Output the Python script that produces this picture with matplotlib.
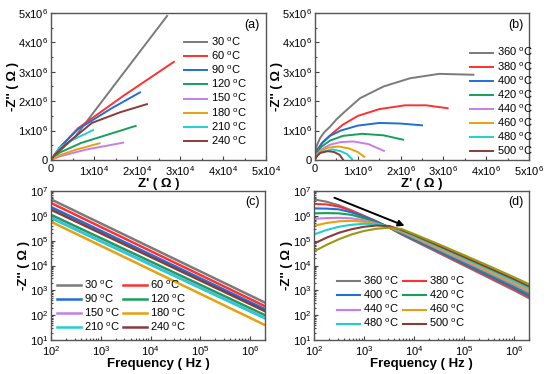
import numpy as np
import matplotlib
matplotlib.use('Agg')
import matplotlib.pyplot as plt
from matplotlib.ticker import FuncFormatter, AutoMinorLocator, LogLocator, NullFormatter

plt.rcParams['font.family'] = ['Liberation Sans', 'DejaVu Sans']
plt.rcParams['mathtext.fontset'] = 'custom'
plt.rcParams['mathtext.rm'] = 'Liberation Sans'
plt.rcParams['mathtext.it'] = 'Liberation Sans:italic'
plt.rcParams['mathtext.bf'] = 'Liberation Sans:bold'

COLORS = ['#7a7a7a', '#ff3030', '#1f6fd8', '#16a05a', '#c87ee8',
          '#e8a010', '#20d0d0', '#8b3a3a']
OLIVE = '#9a9a10'

# (a) Nyquist, low temperatures  (Z' in 1e4 ohm, -Z'' in 1e6 ohm)
temps_low = [30, 60, 90, 120, 150, 180, 210, 240]
a_zre = [[0, 0.2, 0.56, 1.5, 2.7],
         [0, 0.2, 0.63, 1.7, 2.86],
         [0, 0.2, 0.63, 1.4, 2.07],
         [0, 0.2, 0.7, 1.97],
         [0, 0.2, 0.8, 1.68],
         [0, 0.2, 0.6, 1.13],
         [0, 0.2, 0.5, 0.98],
         [0, 0.1, 0.33, 0.95, 1.6, 2.23]]
a_zim = [[0, 0.3, 0.79, 2.6, 4.9],
         [0, 0.42, 1.08, 2.2, 3.34],
         [0, 0.42, 1.05, 1.75, 2.3],
         [0, 0.25, 0.58, 1.16],
         [0, 0.12, 0.35, 0.59],
         [0, 0.16, 0.36, 0.57],
         [0, 0.42, 0.68, 1.02],
         [0, 0.2, 0.51, 1.26, 1.62, 1.9]]

# (b) Nyquist, high temperatures (both in 1e6 ohm)
temps_high = [360, 380, 400, 420, 440, 460, 480, 500]
b_zre = [[0.0, 0.03, 0.12, 0.22, 0.35, 0.5, 0.7, 1.05, 1.6, 2.22, 2.9, 3.7],
         [0.0, 0.05, 0.19, 0.4, 0.65, 1.0, 1.5, 2.1, 2.6, 3.1],
         [0.0, 0.05, 0.15, 0.35, 0.6, 1.0, 1.5, 2.0, 2.5],
         [0.0, 0.05, 0.15, 0.35, 0.65, 1.1, 1.6, 2.06],
         [0.0, 0.05, 0.15, 0.35, 0.6, 0.9, 1.25, 1.61],
         [0.0, 0.05, 0.15, 0.3, 0.55, 0.8, 1.0, 1.15],
         [0.0, 0.05, 0.15, 0.4, 0.6, 0.75, 0.87],
         [0.0, 0.04, 0.12, 0.3, 0.45, 0.58, 0.66]]
b_zim = [[0.1, 0.45, 0.75, 0.95, 1.13, 1.38, 1.65, 2.1, 2.5, 2.78, 2.93, 2.9],
         [0.08, 0.35, 0.62, 0.9, 1.2, 1.5, 1.73, 1.86, 1.86, 1.76],
         [0.06, 0.3, 0.55, 0.82, 1.0, 1.17, 1.26, 1.24, 1.18],
         [0.05, 0.25, 0.45, 0.66, 0.82, 0.89, 0.84, 0.69],
         [0.04, 0.2, 0.36, 0.52, 0.61, 0.63, 0.54, 0.31],
         [0.03, 0.17, 0.31, 0.42, 0.46, 0.39, 0.27, 0.11],
         [0.03, 0.15, 0.27, 0.36, 0.3, 0.2, 0.02],
         [0.02, 0.12, 0.24, 0.3, 0.27, 0.17, 0.0]]

# (c) -Z'' vs frequency, low temperatures (values at 1e2 Hz and 2e6 Hz)
c_freq = [1e2, 2e6]
c_zim = [[4.6e6, 3.2e2],
         [3.3e6, 2.3e2],
         [2.26e6, 1.74e2],
         [1.1e6, 1.0e2],
         [8.5e5, 7.8e1],
         [5.8e5, 4.0e1],
         [8.1e5, 7.4e1],
         [1.78e6, 1.45e2]]

# (d) -Z'' vs frequency, high temperatures (log10 values)
d_logf = [2.0, 2.25, 2.5, 2.75, 3.0, 3.25, 3.5, 3.75, 4.0, 4.5, 5.0, 5.5, 6.0, 6.3]
d_logz = [[6.66, 6.57, 6.42, 6.22, 6.00, 5.78, 5.53, 5.25, 5.00, 4.50, 4.00, 3.50, 3.00, 2.68],
          [6.48, 6.46, 6.37, 6.20, 5.99, 5.77, 5.53, 5.27, 5.03, 4.54, 4.04, 3.55, 3.05, 2.74],
          [6.30, 6.29, 6.26, 6.14, 5.96, 5.76, 5.54, 5.29, 5.05, 4.57, 4.08, 3.60, 3.11, 2.79],
          [6.10, 6.11, 6.10, 6.04, 5.90, 5.73, 5.54, 5.32, 5.09, 4.61, 4.13, 3.65, 3.17, 2.86],
          [5.88, 5.91, 5.92, 5.90, 5.82, 5.69, 5.54, 5.35, 5.12, 4.65, 4.18, 3.71, 3.23, 2.93],
          [5.60, 5.71, 5.78, 5.80, 5.76, 5.66, 5.54, 5.37, 5.15, 4.70, 4.24, 3.77, 3.30, 3.00],
          [5.25, 5.43, 5.56, 5.64, 5.68, 5.66, 5.58, 5.40, 5.19, 4.75, 4.29, 3.84, 3.37, 3.08],
          [4.88, 5.12, 5.32, 5.46, 5.56, 5.61, 5.59, 5.43, 5.23, 4.79, 4.35, 3.90, 3.45, 3.16]]
d_logz_olive = [4.57, 4.83, 5.06, 5.25, 5.39, 5.48, 5.52, 5.47, 5.27, 4.85, 4.42, 3.98, 3.53, 3.25]


def sci(v, pos):
    if abs(v) < 1e-9:
        return '0'
    e = int(np.floor(np.log10(abs(v)) + 1e-9))
    m = v / 10 ** e
    return f'{m:g}x10$^{{{e}}}$'


def deg(t):
    return f'{t} $^\\mathregular{{o}}$C'


def style(ax):
    for s in ax.spines.values():
        s.set_color('#555555')
        s.set_linewidth(1.0)
    ax.tick_params(which='both', direction='in', colors='#444444', labelcolor='black',
                   labelsize=8, width=0.8, pad=2)
    ax.tick_params(axis='x', which='major', pad=3)
    ax.tick_params(which='major', length=3)
    ax.tick_params(which='minor', length=1.5)


LABEL_KW = dict(fontsize=9.5, fontweight='bold')
LEG_KW = dict(frameon=False, fontsize=8, borderpad=0, borderaxespad=0,
              handletextpad=0.3, handlelength=2.1, labelspacing=0.15)

fig = plt.figure(figsize=(5.5, 3.74), dpi=100)
W, H = 550, 374


def axes_px(l, r, t, b):
    return fig.add_axes([l / W, 1 - b / H, (r - l) / W, (b - t) / H])


ax_a = axes_px(51, 266, 13, 160)
ax_b = axes_px(315, 529, 13, 160)
ax_c = axes_px(51, 265, 191, 340)
ax_d = axes_px(314, 529, 191, 340)

# (a)
for i, t in enumerate(temps_low):
    ax_a.plot(np.array(a_zre[i]) * 1e4, np.array(a_zim[i]) * 1e6,
              color=COLORS[i], lw=1.4, label=deg(t))
ax_a.set_xlim(0, 5e4)
ax_a.set_ylim(0, 5e6)
ax_a.set_xticks(np.arange(0, 5.01e4, 1e4))
ax_a.set_yticks(np.arange(0, 5.01e6, 1e6))
ax_a.xaxis.set_major_formatter(FuncFormatter(sci))
ax_a.yaxis.set_major_formatter(FuncFormatter(sci))
ax_a.xaxis.set_minor_locator(AutoMinorLocator(2))
ax_a.yaxis.set_minor_locator(AutoMinorLocator(2))
ax_a.set_xlabel("Z' ( Ω )", labelpad=0, **LABEL_KW)
ax_a.set_ylabel("-Z'' ( Ω )", labelpad=-1, **LABEL_KW)
ax_a.legend(loc='upper left', bbox_to_anchor=(0.619, 0.845), **LEG_KW)
ax_a.text(0.972, 0.918, '(a)', transform=ax_a.transAxes, ha='right', va='center', fontsize=9)

# (b)
for i, t in enumerate(temps_high):
    ax_b.plot(np.array(b_zre[i]) * 1e6, np.array(b_zim[i]) * 1e6,
              color=COLORS[i], lw=1.4, label=deg(t))
ax_b.set_xlim(0, 5e6)
ax_b.set_ylim(0, 5e6)
ax_b.set_xticks(np.arange(0, 5.01e6, 1e6))
ax_b.set_yticks(np.arange(0, 5.01e6, 1e6))
ax_b.xaxis.set_major_formatter(FuncFormatter(sci))
ax_b.yaxis.set_major_formatter(FuncFormatter(sci))
ax_b.xaxis.set_minor_locator(AutoMinorLocator(2))
ax_b.yaxis.set_minor_locator(AutoMinorLocator(2))
ax_b.set_xlabel("Z' ( Ω )", labelpad=0, **LABEL_KW)
ax_b.set_ylabel("-Z'' ( Ω )", labelpad=-1, **LABEL_KW)
ax_b.legend(loc='upper left', bbox_to_anchor=(0.724, 0.775), **LEG_KW)
ax_b.text(0.972, 0.918, '(b)', transform=ax_b.transAxes, ha='right', va='center', fontsize=9)

# (c)
for i, t in enumerate(temps_low):
    ax_c.plot(c_freq, c_zim[i], color=COLORS[i], lw=1.8, label=deg(t))

# (d)
for i, t in enumerate(temps_high):
    ax_d.plot(10 ** np.array(d_logf), 10 ** np.array(d_logz[i]),
              color=COLORS[i], lw=1.5, label=deg(t))
ax_d.plot(10 ** np.array(d_logf), 10 ** np.array(d_logz_olive), color=OLIVE, lw=1.5)
ax_d.annotate('', xy=(7.3e3, 3.6e5), xytext=(2.27e2, 5.9e6),
              arrowprops=dict(arrowstyle='-|>', color='black', lw=1.4, mutation_scale=9))

# legends in (c)/(d) are filled row by row
row_order = [0, 2, 4, 6, 1, 3, 5, 7]
for ax, lab, anchor in [(ax_c, '(c)', (0.029, 0.412)), (ax_d, '(d)', (0.106, 0.437))]:
    ax.set_xscale('log')
    ax.set_yscale('log')
    ax.set_xlim(1e2, 2e6)
    ax.set_ylim(1e1, 1e7)
    ax.xaxis.set_major_locator(LogLocator(base=10, numticks=10))
    ax.yaxis.set_major_locator(LogLocator(base=10, numticks=10))
    ax.xaxis.set_minor_locator(LogLocator(base=10, subs=np.arange(2, 10), numticks=20))
    ax.yaxis.set_minor_locator(LogLocator(base=10, subs=np.arange(2, 10), numticks=20))
    ax.xaxis.set_minor_formatter(NullFormatter())
    ax.yaxis.set_minor_formatter(NullFormatter())
    ax.set_xlabel('Frequency ( Hz )', labelpad=0, **LABEL_KW)
    ax.set_ylabel("-Z'' ( Ω )", labelpad=0, **LABEL_KW)
    handles, labels = ax.get_legend_handles_labels()
    kw = dict(LEG_KW)
    kw.update(ncol=2, columnspacing=0.3)
    ax.legend([handles[j] for j in row_order], [labels[j] for j in row_order],
              loc='upper left', bbox_to_anchor=anchor, **kw)
    ax.text(0.975, 0.926, lab, transform=ax.transAxes, ha='right', va='center', fontsize=9)

for ax in (ax_a, ax_b, ax_c, ax_d):
    style(ax)

fig.savefig('out.png', dpi=100)
